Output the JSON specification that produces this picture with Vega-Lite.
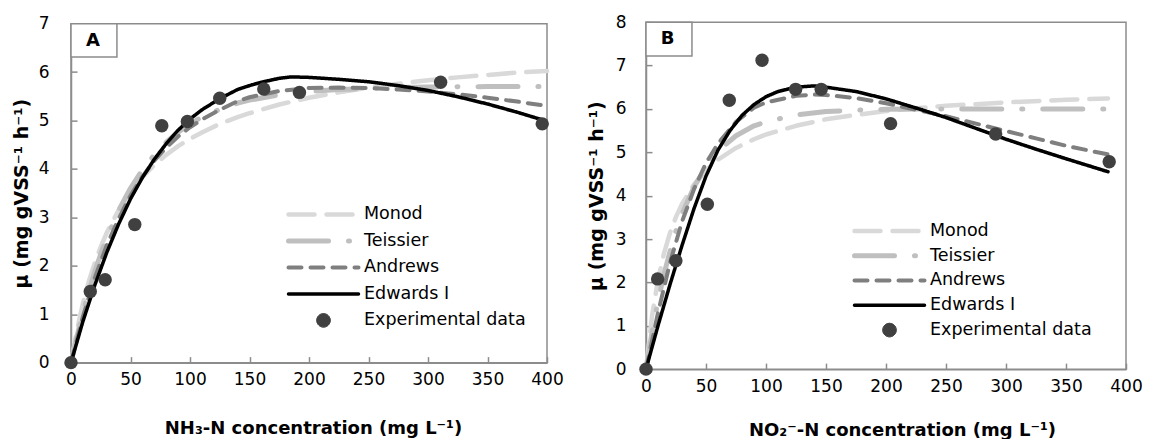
{
  "$schema": "https://vega.github.io/schema/vega-lite/v6.json",
  "background": "white",
  "padding": {"left": 11, "top": 9, "right": 5, "bottom": 0},
  "spacing": 22,
  "center": true,
  "config": {
    "view": {"stroke": "#8c8c8c", "strokeWidth": 1.5},
    "axis": {
      "domainColor": "#8c8c8c", "domainWidth": 1.5,
      "tickColor": "#8c8c8c", "tickWidth": 1.5, "tickSize": -6,
      "grid": false,
      "labelFont": "DejaVu Sans", "labelFontSize": 17, "labelColor": "#000000",
      "labelFlush": false, "labelOverlap": false,
      "titleFont": "DejaVu Sans", "titleFontSize": 18, "titleFontWeight": "bold", "titleColor": "#000000"
    },
    "legend": {
      "labelFont": "DejaVu Sans", "labelFontSize": 17.5, "labelColor": "#000000", "labelLimit": 300,
      "labelOffset": 3, "padding": 0, "symbolOpacity": 1, "clipHeight": 17.5
    }
  },
  "resolve": {
    "scale": {"x": "independent", "y": "independent", "color": "independent", "strokeDash": "independent", "strokeWidth": "independent", "shape": "independent", "size": "independent"},
    "legend": {"color": "independent", "strokeDash": "independent", "strokeWidth": "independent", "shape": "independent", "size": "independent"}
  },
  "datasets": {
    "curvesA": [
      {"model": "Monod", "conc": 0, "mu": 0}, {"model": "Monod", "conc": 5, "mu": 0.67}, {"model": "Monod", "conc": 10, "mu": 1.22}, {"model": "Monod", "conc": 15, "mu": 1.68}, {"model": "Monod", "conc": 20, "mu": 2.06}, {"model": "Monod", "conc": 25, "mu": 2.39}, {"model": "Monod", "conc": 30, "mu": 2.68}, {"model": "Monod", "conc": 40, "mu": 3.15}, {"model": "Monod", "conc": 50, "mu": 3.53}, {"model": "Monod", "conc": 60, "mu": 3.83}, {"model": "Monod", "conc": 70, "mu": 4.08}, {"model": "Monod", "conc": 80, "mu": 4.29}, {"model": "Monod", "conc": 90, "mu": 4.47}, {"model": "Monod", "conc": 100, "mu": 4.62}, {"model": "Monod", "conc": 110, "mu": 4.75}, {"model": "Monod", "conc": 125, "mu": 4.93}, {"model": "Monod", "conc": 140, "mu": 5.07}, {"model": "Monod", "conc": 150, "mu": 5.15}, {"model": "Monod", "conc": 175, "mu": 5.33}, {"model": "Monod", "conc": 200, "mu": 5.47}, {"model": "Monod", "conc": 225, "mu": 5.58}, {"model": "Monod", "conc": 250, "mu": 5.68}, {"model": "Monod", "conc": 275, "mu": 5.76}, {"model": "Monod", "conc": 300, "mu": 5.83}, {"model": "Monod", "conc": 325, "mu": 5.89}, {"model": "Monod", "conc": 350, "mu": 5.94}, {"model": "Monod", "conc": 375, "mu": 5.99}, {"model": "Monod", "conc": 400, "mu": 6.02},
      {"model": "Teissier", "conc": 0, "mu": 0}, {"model": "Teissier", "conc": 5, "mu": 0.54}, {"model": "Teissier", "conc": 10, "mu": 1.03}, {"model": "Teissier", "conc": 15, "mu": 1.48}, {"model": "Teissier", "conc": 20, "mu": 1.88}, {"model": "Teissier", "conc": 25, "mu": 2.24}, {"model": "Teissier", "conc": 30, "mu": 2.57}, {"model": "Teissier", "conc": 40, "mu": 3.14}, {"model": "Teissier", "conc": 50, "mu": 3.6}, {"model": "Teissier", "conc": 60, "mu": 3.98}, {"model": "Teissier", "conc": 70, "mu": 4.29}, {"model": "Teissier", "conc": 80, "mu": 4.55}, {"model": "Teissier", "conc": 90, "mu": 4.76}, {"model": "Teissier", "conc": 100, "mu": 4.93}, {"model": "Teissier", "conc": 110, "mu": 5.07}, {"model": "Teissier", "conc": 125, "mu": 5.23}, {"model": "Teissier", "conc": 140, "mu": 5.36}, {"model": "Teissier", "conc": 150, "mu": 5.42}, {"model": "Teissier", "conc": 175, "mu": 5.53}, {"model": "Teissier", "conc": 200, "mu": 5.6}, {"model": "Teissier", "conc": 225, "mu": 5.64}, {"model": "Teissier", "conc": 250, "mu": 5.66}, {"model": "Teissier", "conc": 275, "mu": 5.68}, {"model": "Teissier", "conc": 300, "mu": 5.69}, {"model": "Teissier", "conc": 350, "mu": 5.7}, {"model": "Teissier", "conc": 400, "mu": 5.7},
      {"model": "Andrews", "conc": 0, "mu": 0}, {"model": "Andrews", "conc": 10, "mu": 0.95}, {"model": "Andrews", "conc": 20, "mu": 1.75}, {"model": "Andrews", "conc": 30, "mu": 2.42}, {"model": "Andrews", "conc": 40, "mu": 2.97}, {"model": "Andrews", "conc": 50, "mu": 3.45}, {"model": "Andrews", "conc": 60, "mu": 3.84}, {"model": "Andrews", "conc": 70, "mu": 4.17}, {"model": "Andrews", "conc": 80, "mu": 4.44}, {"model": "Andrews", "conc": 90, "mu": 4.67}, {"model": "Andrews", "conc": 100, "mu": 4.86}, {"model": "Andrews", "conc": 110, "mu": 5.02}, {"model": "Andrews", "conc": 125, "mu": 5.22}, {"model": "Andrews", "conc": 140, "mu": 5.4}, {"model": "Andrews", "conc": 150, "mu": 5.48}, {"model": "Andrews", "conc": 175, "mu": 5.61}, {"model": "Andrews", "conc": 200, "mu": 5.67}, {"model": "Andrews", "conc": 225, "mu": 5.68}, {"model": "Andrews", "conc": 250, "mu": 5.67}, {"model": "Andrews", "conc": 275, "mu": 5.64}, {"model": "Andrews", "conc": 300, "mu": 5.6}, {"model": "Andrews", "conc": 325, "mu": 5.54}, {"model": "Andrews", "conc": 350, "mu": 5.47}, {"model": "Andrews", "conc": 375, "mu": 5.39}, {"model": "Andrews", "conc": 400, "mu": 5.3},
      {"model": "Edwards I", "conc": 0, "mu": 0}, {"model": "Edwards I", "conc": 10, "mu": 0.85}, {"model": "Edwards I", "conc": 20, "mu": 1.6}, {"model": "Edwards I", "conc": 30, "mu": 2.27}, {"model": "Edwards I", "conc": 40, "mu": 2.86}, {"model": "Edwards I", "conc": 50, "mu": 3.38}, {"model": "Edwards I", "conc": 60, "mu": 3.82}, {"model": "Edwards I", "conc": 70, "mu": 4.2}, {"model": "Edwards I", "conc": 80, "mu": 4.52}, {"model": "Edwards I", "conc": 90, "mu": 4.8}, {"model": "Edwards I", "conc": 100, "mu": 5.03}, {"model": "Edwards I", "conc": 110, "mu": 5.22}, {"model": "Edwards I", "conc": 125, "mu": 5.45}, {"model": "Edwards I", "conc": 140, "mu": 5.64}, {"model": "Edwards I", "conc": 150, "mu": 5.72}, {"model": "Edwards I", "conc": 160, "mu": 5.79}, {"model": "Edwards I", "conc": 175, "mu": 5.87}, {"model": "Edwards I", "conc": 185, "mu": 5.9}, {"model": "Edwards I", "conc": 200, "mu": 5.89}, {"model": "Edwards I", "conc": 225, "mu": 5.85}, {"model": "Edwards I", "conc": 250, "mu": 5.8}, {"model": "Edwards I", "conc": 275, "mu": 5.72}, {"model": "Edwards I", "conc": 300, "mu": 5.62}, {"model": "Edwards I", "conc": 325, "mu": 5.49}, {"model": "Edwards I", "conc": 350, "mu": 5.34}, {"model": "Edwards I", "conc": 375, "mu": 5.17}, {"model": "Edwards I", "conc": 395, "mu": 5.02}
    ],
    "pointsA": [
      {"model": "Experimental data", "conc": 0, "mu": 0}, {"model": "Experimental data", "conc": 16.2, "mu": 1.47}, {"model": "Experimental data", "conc": 28.7, "mu": 1.71}, {"model": "Experimental data", "conc": 53.6, "mu": 2.85}, {"model": "Experimental data", "conc": 76.3, "mu": 4.89}, {"model": "Experimental data", "conc": 97.8, "mu": 4.98}, {"model": "Experimental data", "conc": 125, "mu": 5.46}, {"model": "Experimental data", "conc": 162, "mu": 5.65}, {"model": "Experimental data", "conc": 192, "mu": 5.58}, {"model": "Experimental data", "conc": 310.6, "mu": 5.79}, {"model": "Experimental data", "conc": 396, "mu": 4.93}
    ],
    "curvesB": [
      {"model": "Monod", "conc": 0, "mu": 0}, {"model": "Monod", "conc": 5, "mu": 1.22}, {"model": "Monod", "conc": 10, "mu": 2.06}, {"model": "Monod", "conc": 15, "mu": 2.67}, {"model": "Monod", "conc": 20, "mu": 3.14}, {"model": "Monod", "conc": 25, "mu": 3.51}, {"model": "Monod", "conc": 30, "mu": 3.81}, {"model": "Monod", "conc": 40, "mu": 4.26}, {"model": "Monod", "conc": 50, "mu": 4.58}, {"model": "Monod", "conc": 60, "mu": 4.83}, {"model": "Monod", "conc": 75, "mu": 5.1}, {"model": "Monod", "conc": 90, "mu": 5.3}, {"model": "Monod", "conc": 100, "mu": 5.41}, {"model": "Monod", "conc": 125, "mu": 5.61}, {"model": "Monod", "conc": 150, "mu": 5.76}, {"model": "Monod", "conc": 175, "mu": 5.86}, {"model": "Monod", "conc": 200, "mu": 5.95}, {"model": "Monod", "conc": 250, "mu": 6.07}, {"model": "Monod", "conc": 300, "mu": 6.15}, {"model": "Monod", "conc": 350, "mu": 6.21}, {"model": "Monod", "conc": 385, "mu": 6.24},
      {"model": "Teissier", "conc": 0, "mu": 0}, {"model": "Teissier", "conc": 5, "mu": 0.84}, {"model": "Teissier", "conc": 10, "mu": 1.57}, {"model": "Teissier", "conc": 15, "mu": 2.19}, {"model": "Teissier", "conc": 20, "mu": 2.71}, {"model": "Teissier", "conc": 25, "mu": 3.19}, {"model": "Teissier", "conc": 30, "mu": 3.58}, {"model": "Teissier", "conc": 40, "mu": 4.2}, {"model": "Teissier", "conc": 50, "mu": 4.66}, {"model": "Teissier", "conc": 60, "mu": 5.03}, {"model": "Teissier", "conc": 75, "mu": 5.38}, {"model": "Teissier", "conc": 90, "mu": 5.61}, {"model": "Teissier", "conc": 100, "mu": 5.7}, {"model": "Teissier", "conc": 125, "mu": 5.86}, {"model": "Teissier", "conc": 150, "mu": 5.94}, {"model": "Teissier", "conc": 175, "mu": 5.97}, {"model": "Teissier", "conc": 200, "mu": 5.99}, {"model": "Teissier", "conc": 250, "mu": 6.0}, {"model": "Teissier", "conc": 300, "mu": 6.0}, {"model": "Teissier", "conc": 385, "mu": 6.0},
      {"model": "Andrews", "conc": 0, "mu": 0}, {"model": "Andrews", "conc": 10, "mu": 1.3}, {"model": "Andrews", "conc": 20, "mu": 2.45}, {"model": "Andrews", "conc": 30, "mu": 3.4}, {"model": "Andrews", "conc": 40, "mu": 4.15}, {"model": "Andrews", "conc": 50, "mu": 4.75}, {"model": "Andrews", "conc": 60, "mu": 5.2}, {"model": "Andrews", "conc": 75, "mu": 5.7}, {"model": "Andrews", "conc": 90, "mu": 6.03}, {"model": "Andrews", "conc": 100, "mu": 6.15}, {"model": "Andrews", "conc": 125, "mu": 6.3}, {"model": "Andrews", "conc": 140, "mu": 6.33}, {"model": "Andrews", "conc": 150, "mu": 6.32}, {"model": "Andrews", "conc": 175, "mu": 6.25}, {"model": "Andrews", "conc": 200, "mu": 6.13}, {"model": "Andrews", "conc": 225, "mu": 5.98}, {"model": "Andrews", "conc": 250, "mu": 5.83}, {"model": "Andrews", "conc": 275, "mu": 5.66}, {"model": "Andrews", "conc": 300, "mu": 5.49}, {"model": "Andrews", "conc": 325, "mu": 5.32}, {"model": "Andrews", "conc": 350, "mu": 5.15}, {"model": "Andrews", "conc": 385, "mu": 4.95},
      {"model": "Edwards I", "conc": 0, "mu": 0}, {"model": "Edwards I", "conc": 10, "mu": 1.0}, {"model": "Edwards I", "conc": 20, "mu": 1.95}, {"model": "Edwards I", "conc": 30, "mu": 2.85}, {"model": "Edwards I", "conc": 40, "mu": 3.7}, {"model": "Edwards I", "conc": 50, "mu": 4.45}, {"model": "Edwards I", "conc": 60, "mu": 5.05}, {"model": "Edwards I", "conc": 70, "mu": 5.5}, {"model": "Edwards I", "conc": 80, "mu": 5.85}, {"model": "Edwards I", "conc": 90, "mu": 6.1}, {"model": "Edwards I", "conc": 100, "mu": 6.28}, {"model": "Edwards I", "conc": 110, "mu": 6.4}, {"model": "Edwards I", "conc": 125, "mu": 6.5}, {"model": "Edwards I", "conc": 140, "mu": 6.53}, {"model": "Edwards I", "conc": 150, "mu": 6.5}, {"model": "Edwards I", "conc": 175, "mu": 6.4}, {"model": "Edwards I", "conc": 200, "mu": 6.23}, {"model": "Edwards I", "conc": 225, "mu": 6.02}, {"model": "Edwards I", "conc": 250, "mu": 5.8}, {"model": "Edwards I", "conc": 275, "mu": 5.55}, {"model": "Edwards I", "conc": 300, "mu": 5.3}, {"model": "Edwards I", "conc": 325, "mu": 5.07}, {"model": "Edwards I", "conc": 350, "mu": 4.85}, {"model": "Edwards I", "conc": 385, "mu": 4.55}
    ],
    "pointsB": [
      {"model": "Experimental data", "conc": 0, "mu": 0}, {"model": "Experimental data", "conc": 9.7, "mu": 2.08}, {"model": "Experimental data", "conc": 24.9, "mu": 2.5}, {"model": "Experimental data", "conc": 51.1, "mu": 3.8}, {"model": "Experimental data", "conc": 69.4, "mu": 6.2}, {"model": "Experimental data", "conc": 96.7, "mu": 7.12}, {"model": "Experimental data", "conc": 124.7, "mu": 6.45}, {"model": "Experimental data", "conc": 146, "mu": 6.45}, {"model": "Experimental data", "conc": 203.8, "mu": 5.66}, {"model": "Experimental data", "conc": 291.4, "mu": 5.42}, {"model": "Experimental data", "conc": 386, "mu": 4.78}
    ]
  },
  "hconcat": [
    {
      "title": {"text": " ", "fontSize": 1, "offset": 3},
      "width": 476,
      "height": 339,
      "layer": [
        {
          "data": {"name": "curvesA"},
          "mark": {"type": "line", "strokeCap": "round", "strokeJoin": "round"},
          "encoding": {
            "x": {"field": "conc", "type": "quantitative", "scale": {"domain": [0, 400], "nice": false}, "title": "NH₃-N concentration (mg L⁻¹)", "axis": {"values": [0, 50, 100, 150, 200, 250, 300, 350, 400], "labelPadding": 15, "titlePadding": 32, "titleX": 242}},
            "y": {"field": "mu", "type": "quantitative", "scale": {"domain": [0, 7], "nice": false}, "title": "μ (mg gVSS⁻¹ h⁻¹)", "axis": {"values": [0, 1, 2, 3, 4, 5, 6, 7], "labelPadding": 28, "titlePadding": 7, "titleFontSize": 19}},
            "color": {"field": "model", "type": "nominal", "scale": {"domain": ["Monod", "Teissier", "Andrews", "Edwards I", "Experimental data"], "range": ["#d9d9d9", "#bfbfbf", "#7f7f7f", "#000000", "#404040"]}, "legend": {"orient": "none", "legendX": 215, "legendY": 182, "rowPadding": 7.5, "title": null, "encode": {"symbols": {"update": {"fill": {"value": "#404040"}, "strokeCap": {"value": "round"}}}}}},
            "strokeDash": {"field": "model", "type": "nominal", "scale": {"domain": ["Monod", "Teissier", "Andrews", "Edwards I", "Experimental data"], "range": [[26, 12], [40, 20, 1, 20], [13, 9], [1, 0], [1, 0]]}, "legend": {"orient": "none", "legendX": 215, "legendY": 182, "rowPadding": 7.5, "title": null}},
            "strokeWidth": {"field": "model", "type": "nominal", "scale": {"type": "ordinal", "domain": ["Monod", "Teissier", "Andrews", "Edwards I", "Experimental data"], "range": [4.5, 5, 4, 3.5, 1]}, "legend": {"orient": "none", "legendX": 215, "legendY": 182, "rowPadding": 7.5, "title": null}}
          }
        },
        {
          "data": {"name": "pointsA"},
          "mark": {"type": "point", "filled": true, "opacity": 1},
          "encoding": {
            "x": {"field": "conc", "type": "quantitative"},
            "y": {"field": "mu", "type": "quantitative"},
            "color": {"field": "model", "type": "nominal", "scale": {"domain": ["Monod", "Teissier", "Andrews", "Edwards I", "Experimental data"], "range": ["#d9d9d9", "#bfbfbf", "#7f7f7f", "#000000", "#404040"]}, "legend": {"orient": "none", "legendX": 215, "legendY": 182, "rowPadding": 7.5, "title": null, "encode": {"symbols": {"update": {"fill": {"value": "#404040"}, "strokeCap": {"value": "round"}}}}}},
            "shape": {"field": "model", "type": "nominal", "scale": {"domain": ["Monod", "Teissier", "Andrews", "Edwards I", "Experimental data"], "range": ["stroke", "stroke", "stroke", "stroke", "circle"]}, "legend": {"orient": "none", "legendX": 215, "legendY": 182, "rowPadding": 7.5, "title": null}},
            "size": {"field": "model", "type": "nominal", "scale": {"type": "ordinal", "domain": ["Monod", "Teissier", "Andrews", "Edwards I", "Experimental data"], "range": [4900, 4900, 4900, 4900, 180]}, "legend": {"orient": "none", "legendX": 215, "legendY": 182, "rowPadding": 7.5, "title": null}}
          }
        },
        {
          "data": {"values": [{"panel": "A"}]},
          "mark": {"type": "rect", "fill": "white", "stroke": "#8c8c8c", "strokeWidth": 1.5},
          "encoding": {"x": {"datum": 0}, "x2": {"datum": 38.6}, "y": {"datum": 7}, "y2": {"datum": 6.31}}
        },
        {
          "data": {"values": [{"panel": "A"}]},
          "mark": {"type": "text", "font": "DejaVu Sans", "fontWeight": "bold", "fontSize": 18, "color": "#000000"},
          "encoding": {"x": {"datum": 18.5}, "y": {"datum": 6.64}, "text": {"field": "panel"}}
        }
      ]
    },
    {
      "width": 480,
      "height": 347,
      "layer": [
        {
          "data": {"name": "curvesB"},
          "mark": {"type": "line", "strokeCap": "round", "strokeJoin": "round"},
          "encoding": {
            "x": {"field": "conc", "type": "quantitative", "scale": {"domain": [0, 400], "nice": false}, "title": "NO₂⁻-N concentration  (mg L⁻¹)", "axis": {"values": [0, 50, 100, 150, 200, 250, 300, 350, 400], "labelPadding": 15, "titlePadding": 27, "titleX": 256}},
            "y": {"field": "mu", "type": "quantitative", "scale": {"domain": [0, 8], "nice": false}, "title": "μ (mg gVSS⁻¹ h⁻¹)", "axis": {"values": [0, 1, 2, 3, 4, 5, 6, 7, 8], "labelPadding": 26, "titlePadding": 9, "titleFontSize": 19}},
            "color": {"field": "model", "type": "nominal", "scale": {"domain": ["Monod", "Teissier", "Andrews", "Edwards I", "Experimental data"], "range": ["#d9d9d9", "#bfbfbf", "#7f7f7f", "#000000", "#404040"]}, "legend": {"orient": "none", "legendX": 206, "legendY": 200, "rowPadding": 5.8, "title": null, "encode": {"symbols": {"update": {"fill": {"value": "#404040"}, "strokeCap": {"value": "round"}}}}}},
            "strokeDash": {"field": "model", "type": "nominal", "scale": {"domain": ["Monod", "Teissier", "Andrews", "Edwards I", "Experimental data"], "range": [[26, 12], [40, 20, 1, 20], [13, 9], [1, 0], [1, 0]]}, "legend": {"orient": "none", "legendX": 206, "legendY": 200, "rowPadding": 5.8, "title": null}},
            "strokeWidth": {"field": "model", "type": "nominal", "scale": {"type": "ordinal", "domain": ["Monod", "Teissier", "Andrews", "Edwards I", "Experimental data"], "range": [4.5, 5, 4, 3.5, 1]}, "legend": {"orient": "none", "legendX": 206, "legendY": 200, "rowPadding": 5.8, "title": null}}
          }
        },
        {
          "data": {"name": "pointsB"},
          "mark": {"type": "point", "filled": true, "opacity": 1},
          "encoding": {
            "x": {"field": "conc", "type": "quantitative"},
            "y": {"field": "mu", "type": "quantitative"},
            "color": {"field": "model", "type": "nominal", "scale": {"domain": ["Monod", "Teissier", "Andrews", "Edwards I", "Experimental data"], "range": ["#d9d9d9", "#bfbfbf", "#7f7f7f", "#000000", "#404040"]}, "legend": {"orient": "none", "legendX": 206, "legendY": 200, "rowPadding": 5.8, "title": null, "encode": {"symbols": {"update": {"fill": {"value": "#404040"}, "strokeCap": {"value": "round"}}}}}},
            "shape": {"field": "model", "type": "nominal", "scale": {"domain": ["Monod", "Teissier", "Andrews", "Edwards I", "Experimental data"], "range": ["stroke", "stroke", "stroke", "stroke", "circle"]}, "legend": {"orient": "none", "legendX": 206, "legendY": 200, "rowPadding": 5.8, "title": null}},
            "size": {"field": "model", "type": "nominal", "scale": {"type": "ordinal", "domain": ["Monod", "Teissier", "Andrews", "Edwards I", "Experimental data"], "range": [4900, 4900, 4900, 4900, 180]}, "legend": {"orient": "none", "legendX": 206, "legendY": 200, "rowPadding": 5.8, "title": null}}
          }
        },
        {
          "data": {"values": [{"panel": "B"}]},
          "mark": {"type": "rect", "fill": "white", "stroke": "#8c8c8c", "strokeWidth": 1.5},
          "encoding": {"x": {"datum": 0}, "x2": {"datum": 38.3}, "y": {"datum": 8}, "y2": {"datum": 7.22}}
        },
        {
          "data": {"values": [{"panel": "B"}]},
          "mark": {"type": "text", "font": "DejaVu Sans", "fontWeight": "bold", "fontSize": 18, "color": "#000000"},
          "encoding": {"x": {"datum": 18}, "y": {"datum": 7.6}, "text": {"field": "panel"}}
        }
      ]
    }
  ]
}
